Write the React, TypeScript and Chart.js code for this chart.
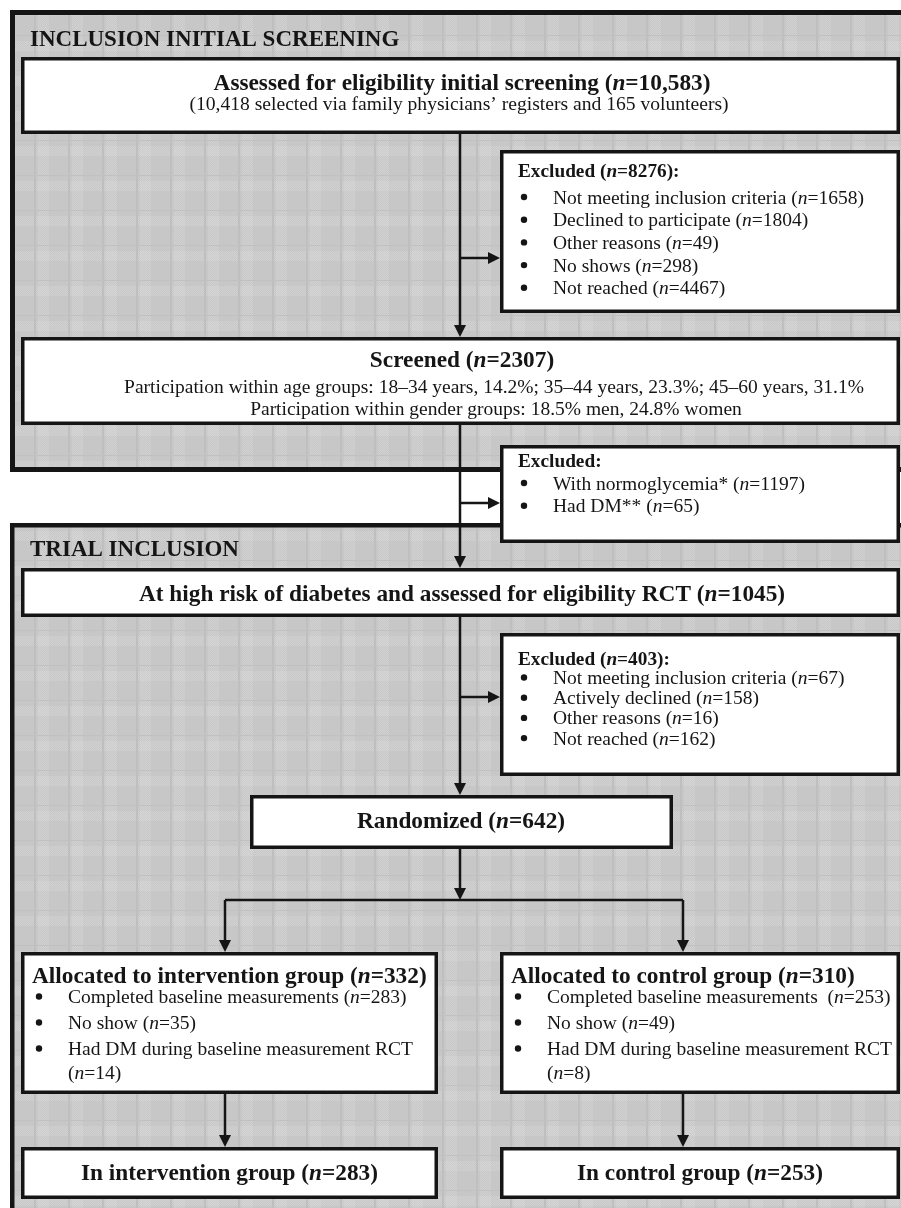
import React, { useEffect, useRef } from "react";
import { Chart, registerables } from "chart.js";

Chart.register(...registerables);

// ---------- DATA ----------
const stageTitles = ["INCLUSION INITIAL SCREENING", "TRIAL INCLUSION"];

const assessedTotal = "10,583";
const assessedNote = "(10,418 selected via family physicians’ registers and 165 volunteers)";

const excludedScreenTotal = 8276;
const excludedScreenReasons = [
  "Not meeting inclusion criteria",
  "Declined to participate",
  "Other reasons",
  "No shows",
  "Not reached",
];
const excludedScreenCounts = [1658, 1804, 49, 298, 4467];

const screenedTotal = 2307;
const screenedNotes = [
  "Participation within age groups: 18–34 years, 14.2%; 35–44 years, 23.3%; 45–60 years, 31.1%",
  "Participation within gender groups: 18.5% men, 24.8% women",
];

const excludedPostReasons = ["With normoglycemia*", "Had DM**"];
const excludedPostCounts = [1197, 65];

const highRiskTotal = 1045;

const excludedRctTotal = 403;
const excludedRctReasons = [
  "Not meeting inclusion criteria",
  "Actively declined",
  "Other reasons",
  "Not reached",
];
const excludedRctCounts = [67, 158, 16, 162];

const randomizedTotal = 642;

const groupNames = ["intervention", "control"];
const allocatedCounts = [332, 310];
const completedCounts = [283, 253];
const noShowCounts = [35, 49];
const hadDmCounts = [14, 8];
const finalCounts = [283, 253];

// ---------- DRAWING HELPERS ----------
const FONT = '"Liberation Serif", "Times New Roman", serif';
const INK = "#151515";

function makePattern(ctx: CanvasRenderingContext2D) {
  const W = 34, H = 35;
  const c = document.createElement("canvas");
  c.width = W;
  c.height = H;
  const g = c.getContext("2d")!;
  const img = g.createImageData(W, H);
  for (let y = 0; y < H; y++) {
    for (let x = 0; x < W; x++) {
      let v = 199;
      const lightV = x >= 4 && x < 15;
      const lightH = y >= 6 && y < 16;
      const dither = (x + y) % 2 === 0;
      if (lightV || lightH) v = dither ? 209 : 200;
      if (lightV && lightH) v = dither ? 215 : 204;
      if (x === 0 || x === 1) v = 191;
      if (y === 0) v = 193;
      const i = (y * W + x) * 4;
      img.data[i] = v;
      img.data[i + 1] = v;
      img.data[i + 2] = v;
      img.data[i + 3] = 255;
    }
  }
  g.putImageData(img, 0, 0);
  return ctx.createPattern(c, "repeat")!;
}

function font(size: number, bold: boolean, italic: boolean) {
  return `${italic ? "italic " : ""}${bold ? "bold " : ""}${size}px ${FONT}`;
}

function richText(
  ctx: CanvasRenderingContext2D,
  text: string,
  x: number,
  y: number,
  size: number,
  bold: boolean,
  align: "left" | "center"
) {
  const parts = text.split("{n}");
  const segs: { t: string; it: boolean }[] = [];
  parts.forEach((p, i) => {
    if (p) segs.push({ t: p, it: false });
    if (i < parts.length - 1) segs.push({ t: "n", it: true });
  });
  let total = 0;
  const widths = segs.map((s) => {
    ctx.font = font(size, bold, s.it);
    const w = ctx.measureText(s.t).width;
    total += w;
    return w;
  });
  let cx = align === "center" ? x - total / 2 : x;
  ctx.textAlign = "left";
  ctx.textBaseline = "alphabetic";
  ctx.fillStyle = INK;
  segs.forEach((s, i) => {
    ctx.font = font(size, bold, s.it);
    ctx.fillText(s.t, cx, y);
    cx += widths[i];
  });
}

const flowPlugin = {
  id: "flowchart",
  beforeDraw(chart: any) {
    const ctx: CanvasRenderingContext2D = chart.ctx;
    const sx = chart.scales.x;
    const sy = chart.scales.y;
    const X = (v: number) => sx.getPixelForValue(v);
    const Y = (v: number) => sy.getPixelForValue(v);

    ctx.save();
    ctx.fillStyle = "#ffffff";
    ctx.fillRect(0, 0, chart.width, chart.height);

    const pattern = makePattern(ctx);

    const panel = (x1: number, y1: number, x2: number, y2: number, lw: number) => {
      ctx.fillStyle = pattern;
      ctx.fillRect(X(x1), Y(y1), X(x2) - X(x1), Y(y2) - Y(y1));
      ctx.strokeStyle = INK;
      ctx.lineWidth = lw;
      ctx.strokeRect(X(x1) + lw / 2, Y(y1) + lw / 2, X(x2) - X(x1) - lw, Y(y2) - Y(y1) - lw);
    };
    const box = (x1: number, y1: number, x2: number, y2: number, lw = 3.5) => {
      ctx.fillStyle = "#ffffff";
      ctx.fillRect(X(x1), Y(y1), X(x2) - X(x1), Y(y2) - Y(y1));
      ctx.strokeStyle = INK;
      ctx.lineWidth = lw;
      ctx.strokeRect(X(x1) + lw / 2, Y(y1) + lw / 2, X(x2) - X(x1) - lw, Y(y2) - Y(y1) - lw);
    };
    const line = (x1: number, y1: number, x2: number, y2: number) => {
      ctx.strokeStyle = INK;
      ctx.lineWidth = 2.5;
      ctx.beginPath();
      ctx.moveTo(X(x1), Y(y1));
      ctx.lineTo(X(x2), Y(y2));
      ctx.stroke();
    };
    const arrow = (x1: number, y1: number, x2: number, y2: number) => {
      const ax = X(x2), ay = Y(y2);
      const dx = X(x2) - X(x1), dy = Y(y2) - Y(y1);
      const len = Math.hypot(dx, dy);
      const ux = dx / len, uy = dy / len;
      const hl = 12, hw = 6;
      ctx.strokeStyle = INK;
      ctx.lineWidth = 2.5;
      ctx.beginPath();
      ctx.moveTo(X(x1), Y(y1));
      ctx.lineTo(ax - ux * hl, ay - uy * hl);
      ctx.stroke();
      ctx.fillStyle = INK;
      ctx.beginPath();
      ctx.moveTo(ax, ay);
      ctx.lineTo(ax - ux * hl - uy * hw, ay - uy * hl + ux * hw);
      ctx.lineTo(ax - ux * hl + uy * hw, ay - uy * hl - ux * hw);
      ctx.closePath();
      ctx.fill();
    };
    const bullet = (x: number, baseline: number) => {
      ctx.fillStyle = INK;
      ctx.beginPath();
      ctx.arc(X(x), Y(baseline) - 6.5, 3.2, 0, Math.PI * 2);
      ctx.fill();
    };
    const T = (t: string, x: number, y: number, size: number, bold: boolean, align: "left" | "center" = "center") =>
      richText(ctx, t, X(x), Y(y), size, bold, align);

    // panels
    panel(10, 10, 930, 472, 5);
    panel(10, 523, 930, 1230, 4.5);

    // stage titles
    T(stageTitles[0], 30, 45.5, 23, true, "left");
    T(stageTitles[1], 30, 556, 23, true, "left");

    const CX = 460;
    // connectors
    arrow(CX, 133, CX, 337);
    arrow(CX, 258, 500, 258);
    arrow(CX, 424, CX, 568);
    arrow(CX, 503, 500, 503);
    arrow(CX, 616, CX, 795);
    arrow(CX, 697, 500, 697);
    arrow(CX, 848, CX, 900);
    line(225, 900, 683, 900);
    arrow(225, 900, 225, 952);
    arrow(683, 900, 683, 952);
    arrow(225, 1093, 225, 1147);
    arrow(683, 1093, 683, 1147);

    // Assessed box
    box(21, 57, 900, 134);
    T(`Assessed for eligibility initial screening ({n}=${assessedTotal})`, 462, 89.5, 23.3, true);
    T(assessedNote, 459, 110, 19.6, false);

    // Excluded (initial)
    box(500, 150, 900, 313);
    T(`Excluded ({n}=${excludedScreenTotal}):`, 518, 177, 19.3, true, "left");
    excludedScreenReasons.forEach((r, i) => {
      const yb = 203.5 + i * 22.7;
      bullet(524, yb);
      T(`${r} ({n}=${excludedScreenCounts[i]})`, 553, yb, 19.5, false, "left");
    });

    // Screened
    box(21, 337, 900, 425);
    T(`Screened ({n}=${screenedTotal})`, 462, 367, 23.3, true);
    T(screenedNotes[0], 494, 393, 19.5, false);
    T(screenedNotes[1], 496, 415, 19.5, false);

    // Excluded (post screening)
    box(500, 445, 900, 543);
    T("Excluded:", 518, 467, 19.3, true, "left");
    excludedPostReasons.forEach((r, i) => {
      const yb = 489.5 + i * 22.7;
      bullet(524, yb);
      T(`${r} ({n}=${excludedPostCounts[i]})`, 553, yb, 19.5, false, "left");
    });

    // High risk
    box(21, 568, 900, 617);
    T(`At high risk of diabetes and assessed for eligibility RCT ({n}=${highRiskTotal})`, 462, 600.5, 23.3, true);

    // Excluded RCT
    box(500, 633, 900, 776);
    T(`Excluded ({n}=${excludedRctTotal}):`, 518, 665, 19.3, true, "left");
    excludedRctReasons.forEach((r, i) => {
      const yb = 684 + i * 20.2;
      bullet(524, yb);
      T(`${r} ({n}=${excludedRctCounts[i]})`, 553, yb, 19.5, false, "left");
    });

    // Randomized
    box(250, 795, 673, 849);
    T(`Randomized ({n}=${randomizedTotal})`, 461, 828, 23.3, true);

    // Allocation boxes
    const lefts = [21, 500];
    const rights = [438, 900];
    groupNames.forEach((g, k) => {
      const L = lefts[k];
      box(L, 952, rights[k], 1094);
      T(`Allocated to ${g} group ({n}=${allocatedCounts[k]})`, L + 11, 983, 23.3, true, "left");
      const sep = k === 1 ? "  " : " ";
      const rows = [
        `Completed baseline measurements${sep}({n}=${completedCounts[k]})`,
        `No show ({n}=${noShowCounts[k]})`,
        "Had DM during baseline measurement RCT",
      ];
      const ys = [1003, 1029, 1055];
      rows.forEach((r, i) => {
        bullet(L + 18, ys[i]);
        T(r, L + 47, ys[i], 19.5, false, "left");
      });
      T(`({n}=${hadDmCounts[k]})`, L + 47, 1078.5, 19.5, false, "left");

      box(L, 1147, rights[k], 1199);
      T(`In ${g} group ({n}=${finalCounts[k]})`, (L + rights[k]) / 2, 1180, 23.3, true);
    });

    ctx.restore();
  },
};

export default function App() {
  const ref = useRef<HTMLCanvasElement | null>(null);
  useEffect(() => {
    if (!ref.current) return;
    const chart = new Chart(ref.current, {
      type: "scatter",
      data: { datasets: [] },
      options: {
        animation: false,
        responsive: false,
        maintainAspectRatio: false,
        devicePixelRatio: 1,
        layout: { padding: 0 },
        plugins: { legend: { display: false }, tooltip: { enabled: false }, title: { display: false } },
        scales: {
          x: { type: "linear", min: 0, max: 901, display: false },
          y: { type: "linear", min: 0, max: 1208, reverse: true, display: false },
        },
        events: [],
      },
      plugins: [flowPlugin],
    });
    return () => chart.destroy();
  }, []);
  return (
    <div style={{ position: "absolute", left: 0, top: 0, width: 901, height: 1208, background: "#fff" }}>
      <canvas ref={ref} width={901} height={1208} style={{ display: "block", width: 901, height: 1208 }} />
    </div>
  );
}
